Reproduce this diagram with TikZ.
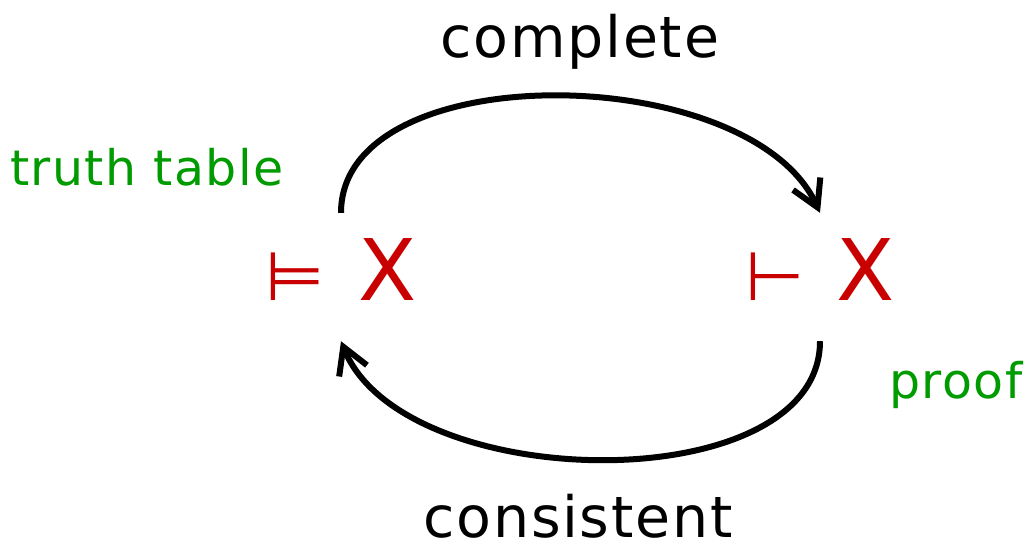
\documentclass[tikz,border=0pt]{standalone}
\usepackage{fontspec}
\setmainfont{DejaVu Sans}
\newfontfamily\figLetra{DejaVu Sans}[LetterSpace=3]
\usetikzlibrary{arrows.meta}
\definecolor{figRojo}{RGB}{200,0,0}
\definecolor{figVerde}{RGB}{0,155,0}
\tikzset{
  etiqueta/.style={anchor=base, inner sep=0pt, font=\figLetra\fontsize{57}{62}\selectfont},
  etiquetav/.style={etiqueta, text=figVerde, font=\figLetra\fontsize{49}{54}\selectfont},
  formula/.style={anchor=base, text=figRojo, inner xsep=0pt, inner ysep=25pt,
    text height=62pt, text depth=16pt, font=\fontsize{85}{90}\selectfont},
  flecha/.style={-{Straight Barb[length=26pt, width=30pt, line width=6pt]},
    line width=6pt, draw=black}
}
\begin{document}
\begin{tikzpicture}[x=1pt, y=-1pt]
  \useasboundingbox (0,0) rectangle (1031,549);

  \node[formula] (sem) at (341,300) {{\fontsize{68}{74}\selectfont ⊨}\hspace{34pt}X};
  \node[formula] (sin) at (820,300) {{\fontsize{68}{74}\selectfont ⊢}\hspace{32pt}X};

  \node[etiqueta] (completo) at (580,57) {complete};
  \node[etiqueta] (consistente) at (578,537) {consistent};
  \node[etiquetav] (tabla) at (147,185) {truth table};
  \node[etiquetav] (prueba) at (956,398) {proof};

  \draw[flecha] (sem.north) .. controls (341,55) and (750,60) .. (sin.north);
  \draw[flecha] (sin.south) .. controls (820,501) and (404,496) .. (sem.south);
\end{tikzpicture}
\end{document}
